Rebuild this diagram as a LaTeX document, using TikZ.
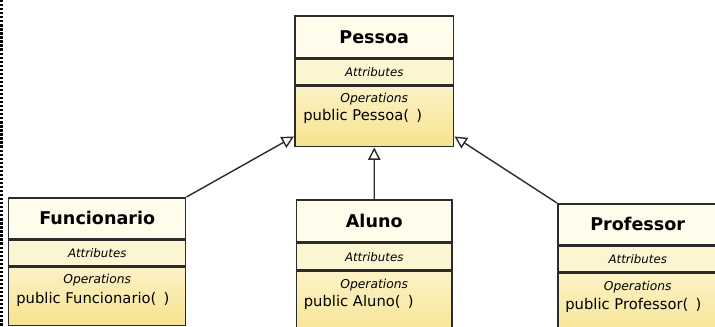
\documentclass[tikz,border=0pt]{standalone}
\usepackage{fontspec}
\setmainfont{DejaVu Sans}
\usetikzlibrary{positioning,arrows.meta}

\definecolor{titlefill}{HTML}{FFFCEB}
\definecolor{attrfill}{HTML}{FCF5D2}
\definecolor{opstop}{HTML}{FCF2C6}
\definecolor{opsbot}{HTML}{F6E38E}
\definecolor{clsline}{HTML}{2B2B2B}

\tikzset{
  cls/.style={draw=clsline, line width=0.85pt, inner sep=0pt, anchor=north west},
  clstitle/.style={cls, fill=titlefill, font=\bfseries\fontsize{10}{12}\selectfont},
  clsattr/.style={cls, fill=attrfill, minimum height=0.52cm, font=\itshape\fontsize{6.7}{8}\selectfont},
  clsops/.style={cls, top color=opstop, bottom color=opsbot},
  opname/.style={inner sep=0pt, font=\itshape\fontsize{7}{8}\selectfont},
  opsig/.style={inner sep=0pt, anchor=west, font=\fontsize{8.4}{10}\selectfont},
  gen/.style={draw=clsline, line width=0.8pt, -{Triangle[open, length=7pt, width=7pt]}}
}

\begin{document}
\begin{tikzpicture}[x=0.02cm, y=-0.02cm]
    \useasboundingbox (0,0) rectangle (715,326);
    \clip (0,0) rectangle (715,326);

    \draw[densely dotted, line width=1.3pt] (1.6,0) -- (1.6,326);

    % Pessoa
    \node[clstitle, minimum width=3.18cm, minimum height=0.84cm] (pessoaT) at (294,15) {Pessoa};
    \node[clsattr, minimum width=3.18cm] (pessoaA) at (pessoaT.south west) {Attributes};
    \node[clsops, minimum width=3.18cm, minimum height=1.2cm] (pessoaO) at (pessoaA.south west) {};
    \node[opname] (pessoaOp) at ([yshift=-0.26cm]pessoaO.north) {Operations};
    \node[opsig] (pessoaSig) at ([xshift=0.18cm, yshift=-0.6cm]pessoaO.north west) {public Pessoa(\ \,)};

    % Funcionario
    \node[clstitle, minimum width=3.54cm, minimum height=0.82cm] (funcT) at (8,197) {Funcionario};
    \node[clsattr, minimum width=3.54cm] (funcA) at (funcT.south west) {Attributes};
    \node[clsops, minimum width=3.54cm, minimum height=1.16cm] (funcO) at (funcA.south west) {};
    \node[opname] (funcOp) at ([yshift=-0.26cm]funcO.north) {Operations};
    \node[opsig] (funcSig) at ([xshift=0.16cm, yshift=-0.64cm]funcO.north west) {public Funcionario(\ \,)};

    % Aluno
    \node[clstitle, minimum width=3.12cm, minimum height=0.84cm] (alunoT) at (295.5,199) {Aluno};
    \node[clsattr, minimum width=3.12cm, minimum height=0.54cm] (alunoA) at (alunoT.south west) {Attributes};
    \node[clsops, minimum width=3.12cm, minimum height=1.4cm] (alunoO) at (alunoA.south west) {};
    \node[opname] (alunoOp) at ([yshift=-0.28cm]alunoO.north) {Operations};
    \node[opsig] (alunoSig) at ([xshift=0.16cm, yshift=-0.62cm]alunoO.north west) {public Aluno(\ \,)};

    % Professor
    \node[clstitle, minimum width=3.2cm, minimum height=0.82cm] (profT) at (557,203) {Professor};
    \node[clsattr, minimum width=3.2cm] (profA) at (profT.south west) {Attributes};
    \node[clsops, minimum width=3.2cm, minimum height=1.4cm] (profO) at (profA.south west) {};
    \node[opname] (profOp) at ([yshift=-0.28cm]profO.north) {Operations};
    \node[opsig] (profSig) at ([xshift=0.16cm, yshift=-0.64cm]profO.north west) {public Professor(\ \,)};

    % generalizations
    \coordinate (pessoaL) at ([yshift=0.22cm]pessoaO.south west);
    \coordinate (pessoaR) at ([yshift=0.22cm]pessoaO.south east);
    \draw[gen] (funcT.north east) -- (pessoaL);
    \draw[gen] (alunoT.north) -- (pessoaO.south);
    \draw[gen] (profT.north west) -- (pessoaR);

\end{tikzpicture}
\end{document}
